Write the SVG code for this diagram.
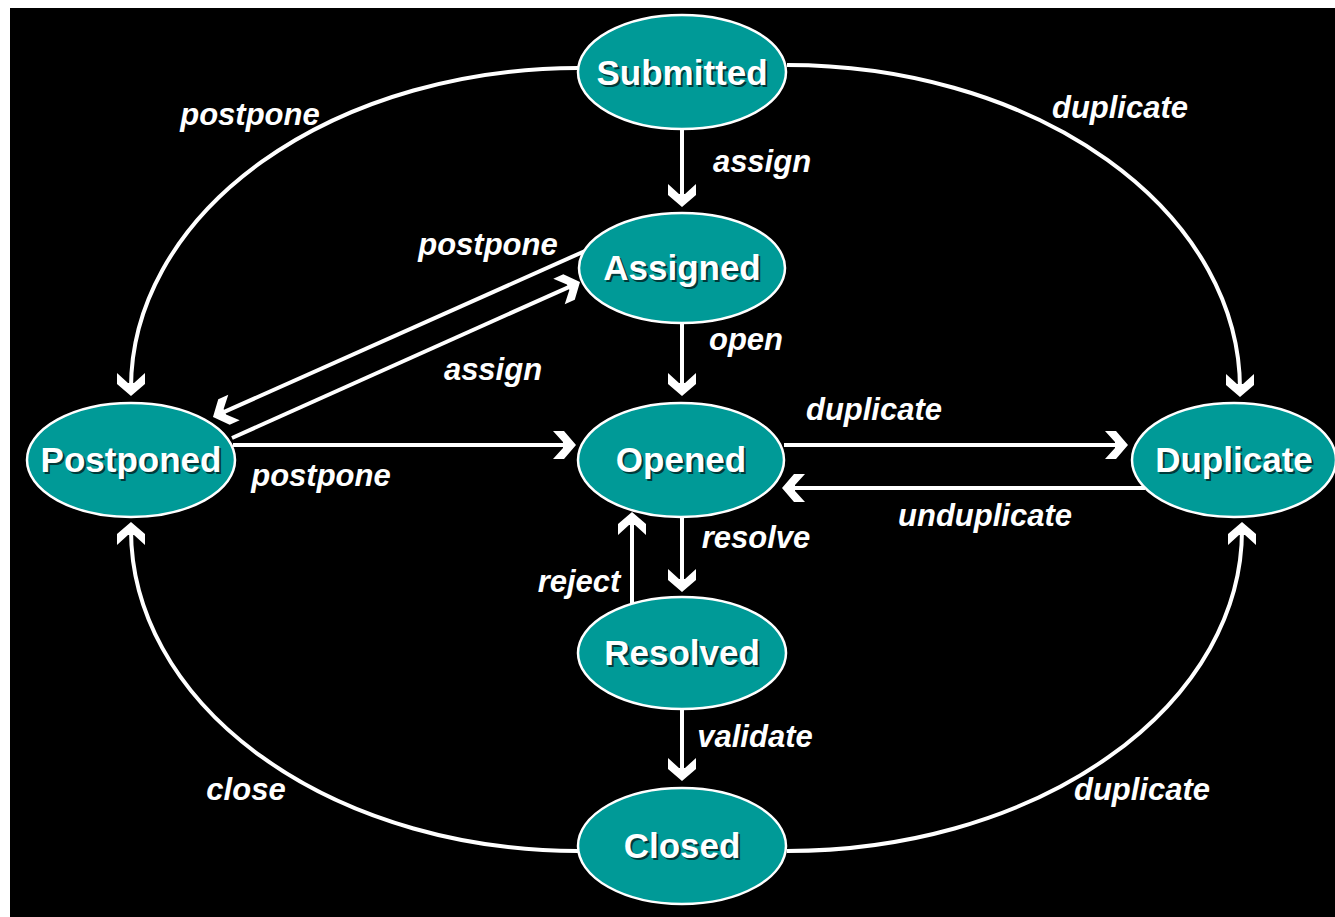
<svg xmlns="http://www.w3.org/2000/svg" width="1335" height="917" viewBox="0 0 1335 917">
  <style>
    .node ellipse { fill: #009a97; stroke: #ffffff; stroke-width: 2.5; }
    .ntext { font-family: "Liberation Sans", Arial, sans-serif; font-weight: bold; font-size: 35px; text-anchor: middle; fill: #ffffff; }
    .nshadow { font-family: "Liberation Sans", Arial, sans-serif; font-weight: bold; font-size: 35px; text-anchor: middle; fill: #002a2a; opacity: 0.85; }
    .edge { fill: none; stroke: #ffffff; stroke-width: 4; marker-end: url(#arrow); }
    .label { font-family: "Liberation Sans", Arial, sans-serif; font-weight: bold; font-style: italic; font-size: 31px; text-anchor: middle; fill: #ffffff; }
  </style>
  <defs>
    <marker id="arrow" markerUnits="userSpaceOnUse" orient="auto" markerWidth="30" markerHeight="30" viewBox="-24 -15 26 30" refX="-8" refY="0" overflow="visible">
      <path d="M0,0 L-12,-14 L-23,-14 L-13,-3 L-13,3 L-23,14 L-12,14 Z" fill="#ffffff"/>
    </marker>
  </defs>
  <rect x="0" y="0" width="1335" height="917" fill="#ffffff"/>
  <rect x="10" y="8" width="1325" height="909" fill="#000000"/>

  <g id="connectors">
    <path class="edge" d="M682,130 V199"/>
    <path class="edge" d="M682,323 V388"/>
    <path class="edge" d="M682,517 V584"/>
    <path class="edge" d="M632,604 V520"/>
    <path class="edge" d="M682,709 V773"/>
    <path class="edge" d="M784,445 H1120"/>
    <path class="edge" d="M1145,488 H790"/>
    <path class="edge" d="M233,445 H568"/>
    <path class="edge" d="M585,251 L220.3,413.7"/>
    <path class="edge" d="M232,438 L572.7,285.3"/>
    <path class="edge" d="M578,68 A447,320 0 0 0 131,388"/>
    <path class="edge" d="M787,65 A453,324 0 0 1 1240,389"/>
    <path class="edge" d="M578,851 A447,321 0 0 1 131,530"/>
    <path class="edge" d="M787,851 A455,321 0 0 0 1242,530"/>
  </g>

  <g id="labels">
    <text class="label" x="250" y="125">postpone</text>
    <text class="label" x="1120" y="118">duplicate</text>
    <text class="label" x="762" y="172">assign</text>
    <text class="label" x="488" y="255">postpone</text>
    <text class="label" x="746" y="350">open</text>
    <text class="label" x="493" y="380">assign</text>
    <text class="label" x="874" y="420">duplicate</text>
    <text class="label" x="321" y="486">postpone</text>
    <text class="label" x="985" y="526">unduplicate</text>
    <text class="label" x="756" y="548">resolve</text>
    <text class="label" x="579" y="592">reject</text>
    <text class="label" x="755" y="747">validate</text>
    <text class="label" x="246" y="800">close</text>
    <text class="label" x="1142" y="800">duplicate</text>
  </g>

  <g id="node-submitted" class="node">
    <ellipse cx="682" cy="72" rx="104" ry="57"/>
    <text class="nshadow" x="684" y="87">Submitted</text>
    <text class="ntext" x="682" y="85">Submitted</text>
  </g>
  <g id="node-assigned" class="node">
    <ellipse cx="682" cy="268" rx="103" ry="55"/>
    <text class="nshadow" x="684" y="282">Assigned</text>
    <text class="ntext" x="682" y="280">Assigned</text>
  </g>
  <g id="node-opened" class="node">
    <ellipse cx="681" cy="460" rx="103" ry="57"/>
    <text class="nshadow" x="683" y="474">Opened</text>
    <text class="ntext" x="681" y="472">Opened</text>
  </g>
  <g id="node-postponed" class="node">
    <ellipse cx="131" cy="460" rx="104" ry="57"/>
    <text class="nshadow" x="133" y="474">Postponed</text>
    <text class="ntext" x="131" y="472">Postponed</text>
  </g>
  <g id="node-duplicate" class="node">
    <ellipse cx="1234" cy="460" rx="102" ry="57"/>
    <text class="nshadow" x="1236" y="474">Duplicate</text>
    <text class="ntext" x="1234" y="472">Duplicate</text>
  </g>
  <g id="node-resolved" class="node">
    <ellipse cx="682" cy="653" rx="104" ry="56"/>
    <text class="nshadow" x="684" y="667">Resolved</text>
    <text class="ntext" x="682" y="665">Resolved</text>
  </g>
  <g id="node-closed" class="node">
    <ellipse cx="682" cy="846" rx="104" ry="58"/>
    <text class="nshadow" x="684" y="860">Closed</text>
    <text class="ntext" x="682" y="858">Closed</text>
  </g>
</svg>
